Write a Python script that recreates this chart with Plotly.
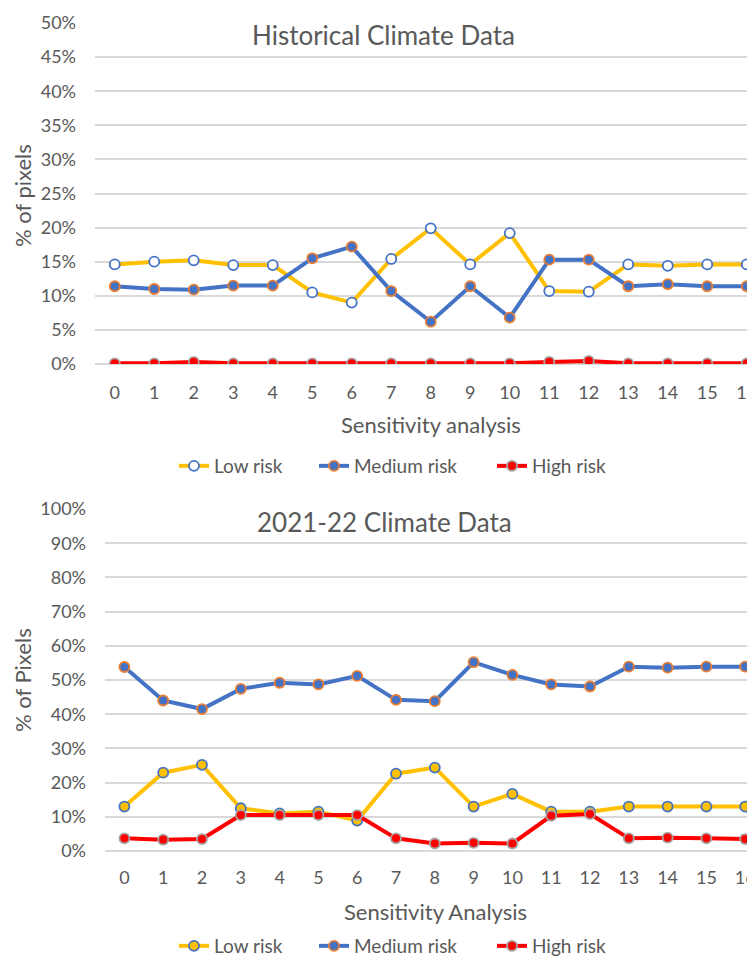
import plotly.graph_objects as go

x_cats = list(range(17))

# Historical climate data (fractions)
hist_low = [0.146, 0.150, 0.152, 0.145, 0.145, 0.105, 0.090, 0.154, 0.199, 0.146, 0.192, 0.107, 0.106, 0.146, 0.144, 0.146, 0.146]
hist_med = [0.114, 0.110, 0.109, 0.115, 0.115, 0.155, 0.172, 0.107, 0.062, 0.114, 0.068, 0.153, 0.153, 0.114, 0.117, 0.114, 0.114]
hist_high = [0.001, 0.001, 0.003, 0.001, 0.001, 0.001, 0.001, 0.001, 0.001, 0.001, 0.001, 0.003, 0.0045, 0.001, 0.001, 0.001, 0.001]

# 2021-22 climate data (fractions)
cur_low = [0.130, 0.229, 0.252, 0.125, 0.110, 0.115, 0.089, 0.226, 0.244, 0.130, 0.167, 0.115, 0.115, 0.130, 0.130, 0.130, 0.130]
cur_med = [0.538, 0.440, 0.415, 0.474, 0.492, 0.487, 0.512, 0.442, 0.438, 0.552, 0.515, 0.487, 0.481, 0.539, 0.536, 0.539, 0.539]
cur_high = [0.037, 0.033, 0.035, 0.105, 0.105, 0.105, 0.105, 0.037, 0.022, 0.024, 0.022, 0.103, 0.108, 0.037, 0.039, 0.037, 0.035]

series_names = ["Low risk", "Medium risk", "High risk"]
top_title = "Historical Climate Data"
bot_title = "2021-22 Climate Data"
top_ytitle = "% of pixels"
bot_ytitle = "% of Pixels"
top_xtitle = "Sensitivity analysis"
bot_xtitle = "Sensitivity Analysis"

YEL = "#FFC000"
BLU = "#4472C4"
RED = "#FF0000"
ORG = "#ED7D31"
GRYM = "#A5A5A5"
TXT = "#595959"
FONT = "Lato, Open Sans, sans-serif"

W, H = 755, 962
OFF = 8  # page body margin offset


def px_x(p):
    return (p - OFF) / W


def px_y(p):
    return 1 - (p - OFF) / H


fig = go.Figure()


def add(xs, ys, name, lc, fc, mlc, xa, ya, legend, lw=4):
    fig.add_trace(go.Scatter(
        x=xs, y=ys, name=name, mode="lines+markers",
        line=dict(color=lc, width=lw),
        marker=dict(size=10, color=fc, line=dict(color=mlc, width=1.8)),
        xaxis=xa, yaxis=ya, legend=legend,
    ))


add(x_cats, hist_low, series_names[0], YEL, "white", BLU, "x", "y", "legend")
add(x_cats, hist_med, series_names[1], BLU, BLU, ORG, "x", "y", "legend2")
add(x_cats, hist_high, series_names[2], RED, RED, GRYM, "x", "y", "legend3")
add(x_cats, cur_low, series_names[0], YEL, YEL, BLU, "x2", "y2", "legend4")
add(x_cats, cur_med, series_names[1], BLU, BLU, ORG, "x2", "y2", "legend5")
add(x_cats, cur_high, series_names[2], RED, RED, GRYM, "x2", "y2", "legend6")

tickfont = dict(family=FONT, size=18, color=TXT)
grid = "#D9D9D9"

# reference page pixel geometry
top_left, top_step = 95, 39.5
bot_left, bot_step = 105, 38.8
page_right = W + OFF

fig.update_layout(
    width=W, height=H,
    margin=dict(l=0, r=0, t=0, b=0, autoexpand=False),
    plot_bgcolor="white", paper_bgcolor="white",
    showlegend=True,
    xaxis=dict(domain=[px_x(top_left), 1], range=[-0.5, -0.5 + (page_right - top_left) / top_step],
               tickmode="array", tickvals=x_cats, ticktext=[str(v) for v in x_cats],
               showgrid=False, zeroline=False, showline=False, ticks="", automargin=False,
               tickfont=tickfont, ticklabelstandoff=16, anchor="y", fixedrange=True),
    yaxis=dict(domain=[px_y(364), px_y(23)], range=[0, 0.5], dtick=0.05, tickformat=".0%",
               showgrid=True, gridcolor=grid, gridwidth=1.5, zeroline=True, zerolinecolor=grid,
               zerolinewidth=1.5, tickfont=tickfont, ticks="", ticklabelstandoff=18,
               automargin=False, anchor="x"),
    xaxis2=dict(domain=[px_x(bot_left), 1], range=[-0.5, -0.5 + (page_right - bot_left) / bot_step],
                tickmode="array", tickvals=x_cats, ticktext=[str(v) for v in x_cats],
                showgrid=False, zeroline=False, showline=False, ticks="", automargin=False,
                tickfont=tickfont, ticklabelstandoff=14, anchor="y2", fixedrange=True),
    yaxis2=dict(domain=[px_y(851), px_y(509)], range=[0, 1.0], dtick=0.1, tickformat=".0%",
                showgrid=True, gridcolor=grid, gridwidth=1.5, zeroline=True, zerolinecolor=grid,
                zerolinewidth=1.5, tickfont=tickfont, ticks="", ticklabelstandoff=18,
                automargin=False, anchor="x2"),
)

# one legend per entry, placed so that text starts where the reference text starts
legend_text_x = [214, 354, 532]
TXT_OFFSET = 40  # distance from legend box left to text start
legend_keys = ["legend", "legend2", "legend3", "legend4", "legend5", "legend6"]
legend_rows = [466, 466, 466, 946, 946, 946]
for i, key in enumerate(legend_keys):
    fig.update_layout({key: dict(
        orientation="h", x=px_x(legend_text_x[i % 3] - TXT_OFFSET), xanchor="left",
        y=px_y(legend_rows[i]), yanchor="middle",
        font=dict(family=FONT, size=19, color=TXT), bgcolor="rgba(0,0,0,0)")})

ann = []


def add_ann(text, x, y, size, angle=0):
    ann.append(dict(text=text, x=px_x(x), y=px_y(y), xref="paper", yref="paper",
                    showarrow=False, xanchor="center", yanchor="middle", textangle=angle,
                    font=dict(family=FONT, size=size, color=TXT)))


add_ann(top_title, 383, 35, 26)
add_ann(bot_title, 384, 522, 26)
add_ann(top_ytitle, 22, 196, 22, -90)
add_ann(bot_ytitle, 22, 680, 22, -90)
add_ann(top_xtitle, 431, 424, 22)
add_ann(bot_xtitle, 435, 911, 22)
fig.update_layout(annotations=ann)

fig.write_html("out.html")
